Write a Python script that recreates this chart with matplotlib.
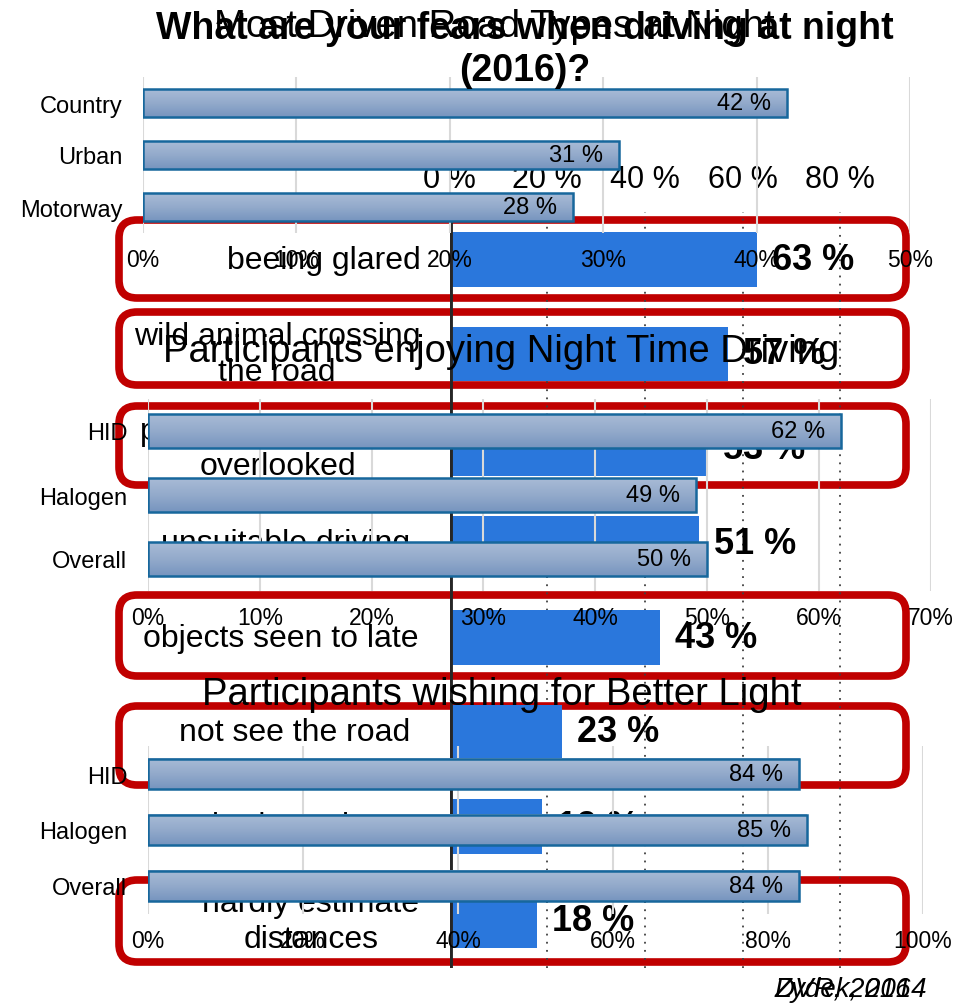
import numpy as np
import matplotlib.pyplot as plt
from matplotlib.patches import FancyBboxPatch
from matplotlib.colors import LinearSegmentedColormap

plt.rcParams['font.family'] = ['Liberation Sans', 'DejaVu Sans']

# fears when driving at night (2016)
fear_labels = ["beeing glared", "wild animal crossing\nthe road", "pedestrians/cyclists\noverlooked",
               "unsuitable driving", "objects seen to late", "not see the road", "bad weather",
               "hardly estimate\ndistances"]
fear_values = [63, 57, 53, 51, 43, 23, 19, 18]
fear_ticks = [0, 20, 40, 60, 80]

# most driven road types at night
road_types = ["Country", "Urban", "Motorway"]
road_values = [42, 31, 28]

# participants enjoying night time driving
enjoy_lamps = ["HID", "Halogen", "Overall"]
enjoy_values = [62, 49, 50]

# participants wishing for better light
wish_lamps = ["HID", "Halogen", "Overall"]
wish_values = [84, 85, 84]

W, H = 963, 1004
BLUE = '#2a77dc'
RED = '#c00000'


def px_rect(x0, y0, x1, y1):
    return [x0 / W, 1 - y1 / H, (x1 - x0) / W, (y1 - y0) / H]


fig = plt.figure(figsize=(W / 100, H / 100), dpi=100)
fig.patch.set_facecolor('white')

# red frames around the highlighted rows
axb = fig.add_axes([0, 0, 1, 1], zorder=0.5)
axb.set_xlim(0, W)
axb.set_ylim(H, 0)
axb.axis('off')
frames = [(221, 299), (313, 386), (407, 486), (596, 677), (707, 786), (881, 963)]
for top, bot in frames:
    axb.add_patch(FancyBboxPatch((119, top), 906 - 119, bot - top,
                                 boxstyle="round,pad=0,rounding_size=18",
                                 lw=5.5, ec=RED, fc='none'))

# fears chart
axa = fig.add_axes(px_rect(449.5, 213.25, 938, 969.25), zorder=1)
axa.patch.set_alpha(0)
rows = np.arange(len(fear_values))
axa.barh(rows, fear_values, height=0.58, color=BLUE, zorder=2)
axa.axvline(0, color='#262626', lw=3.5, zorder=3)
axa.set_xlim(0, 100)
axa.set_ylim(len(fear_values) - 0.5, -0.5)
axa.xaxis.tick_top()
axa.set_xticks(fear_ticks)
axa.set_xticklabels([f"{t} %" for t in fear_ticks], fontsize=22)
axa.tick_params(axis='x', length=0, pad=13)
axa.set_yticks([])
axa.grid(axis='x', linestyle=(0, (1, 3.5)), color='#404040', lw=1.3)
for s in axa.spines.values():
    s.set_visible(False)

px_per_pct = (938 - 449.5) / 100
label_cx = [324, 277, 278, 286, 281, 295, 300, 311]
for i, (lab, v) in enumerate(zip(fear_labels, fear_values)):
    axa.text((label_cx[i] - 449.5) / px_per_pct, i, lab, ha='center', va='center',
             fontsize=23, linespacing=1.22)
    axa.text(v + 15 / px_per_pct, i, f"{v} %", ha='left', va='center',
             fontsize=26, fontweight='bold')

fig.text(525 / W, 1 - 50 / H, "What are your fears when driving at night\n(2016)?",
         ha='center', va='center', fontsize=27, fontweight='bold', linespacing=1.22)

grad_cmap = LinearSegmentedColormap.from_list('bar', ['#a8bbd6', '#93aacb', '#7795bf'])
grad = np.linspace(0, 1, 50).reshape(-1, 1)


def panel(rect, cats, vals, xmax, step, height, z):
    ax = fig.add_axes(rect, zorder=z)
    ax.patch.set_alpha(0)
    n = len(vals)
    pos = np.arange(n)
    for p, v in zip(pos, vals):
        ax.imshow(grad, extent=(0, v, p + height / 2, p - height / 2), aspect='auto',
                  cmap=grad_cmap, zorder=2)
    ax.barh(pos, vals, height=height, facecolor='none', edgecolor='#17679c', lw=1.8, zorder=3)
    ax.set_xlim(0, xmax)
    ax.set_ylim(n - 0.5, -0.5)
    ticks = np.arange(0, xmax + 1, step)
    ax.set_xticks(ticks)
    ax.set_xticklabels([f"{t}%" for t in ticks], fontsize=16.5)
    ax.set_yticks(pos)
    ax.set_yticklabels(cats, fontsize=17)
    ax.tick_params(axis='x', length=0, pad=11)
    ax.tick_params(axis='y', length=0, pad=15)
    ax.grid(axis='x', color='#d9d9d9', lw=1.5, zorder=0)
    ax.set_axisbelow(True)
    for s in ax.spines.values():
        s.set_visible(False)
    bbox = ax.get_position()
    ppu = bbox.width * W / xmax
    for p, v in zip(pos, vals):
        ax.text(v - 16 / ppu, p, f"{v} %", ha='right', va='center', fontsize=17, zorder=4)
    return ax


panel(px_rect(143, 78, 910, 234), road_types, road_values, 50, 10, 0.52, 2)
panel(px_rect(148, 400, 930.6, 592), enjoy_lamps, enjoy_values, 70, 10, 0.52, 3)
panel(px_rect(148, 747, 923, 915), wish_lamps, wish_values, 100, 20, 0.54, 4)

fig.text(494 / W, 1 - 27 / H, "Most Driven Road Types at Night", ha='center', va='center',
         fontsize=27.5, zorder=5)
fig.text(501 / W, 1 - 352 / H, "Participants enjoying Night Time Driving", ha='center',
         va='center', fontsize=27.5, zorder=5)
fig.text(502 / W, 1 - 695 / H, "Participants wishing for Better Light", ha='center',
         va='center', fontsize=27.5, zorder=5)

fig.text(775 / W, 1 - 990 / H, "Zydek, 2014", ha='left', va='center', fontsize=20,
         style='italic')
fig.text(775 / W, 1 - 990 / H, "DVR, 2016", ha='left', va='center', fontsize=20,
         style='italic')

fig.savefig("out.png", dpi=100)
